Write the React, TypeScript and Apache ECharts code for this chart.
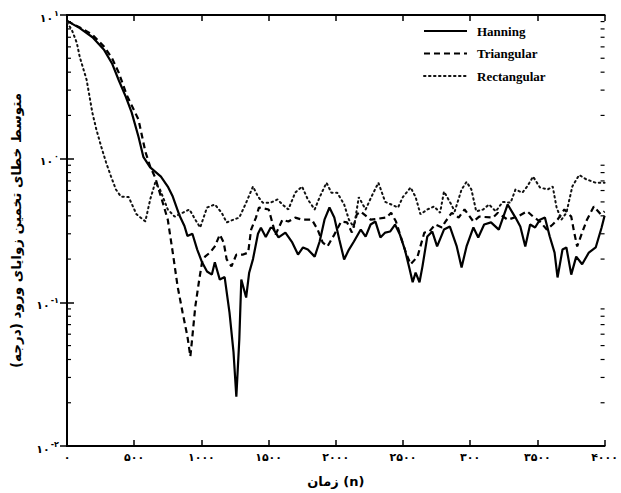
import React, { useEffect, useRef } from "react";
import * as echarts from "echarts";

const hanning: [number, number][] = [
  [0, 9.1], [95, 8.1], [190, 7.0], [277, 5.7], [335, 4.6], [386, 3.5], [437, 2.7], [481, 2.1],
  [532, 1.42], [568, 1.03], [619, 0.87], [699, 0.75], [750, 0.64], [787, 0.545], [838, 0.4],
  [874, 0.34], [896, 0.29], [933, 0.3], [969, 0.233], [1005, 0.19], [1042, 0.164], [1078, 0.156],
  [1100, 0.19], [1137, 0.144], [1173, 0.15], [1209, 0.085], [1239, 0.045], [1260, 0.022],
  [1282, 0.055], [1297, 0.144], [1333, 0.108], [1355, 0.16], [1384, 0.2], [1421, 0.3],
  [1443, 0.33], [1479, 0.285], [1515, 0.33], [1530, 0.33], [1574, 0.283], [1625, 0.306],
  [1676, 0.261], [1719, 0.215], [1756, 0.241], [1792, 0.233], [1843, 0.208], [1880, 0.265],
  [1916, 0.376], [1953, 0.457], [1989, 0.39], [2026, 0.274], [2062, 0.199], [2098, 0.233],
  [2135, 0.265], [2186, 0.321], [2222, 0.287], [2259, 0.348], [2295, 0.365], [2332, 0.283],
  [2368, 0.306], [2404, 0.311], [2441, 0.348], [2477, 0.296], [2514, 0.233], [2550, 0.169],
  [2572, 0.138], [2594, 0.161], [2623, 0.138], [2645, 0.178], [2681, 0.287], [2718, 0.311],
  [2754, 0.245], [2805, 0.321], [2849, 0.337], [2900, 0.245], [2936, 0.175], [2973, 0.245],
  [3024, 0.332], [3060, 0.283], [3104, 0.348], [3155, 0.36], [3213, 0.321], [3279, 0.48],
  [3337, 0.389], [3373, 0.337], [3410, 0.245], [3446, 0.348], [3483, 0.332], [3519, 0.376],
  [3556, 0.389], [3592, 0.287], [3628, 0.222], [3650, 0.149], [3687, 0.233], [3716, 0.241],
  [3752, 0.156], [3789, 0.208], [3833, 0.184], [3883, 0.222], [3934, 0.241], [3978, 0.332],
  [4000, 0.4],
];

const triangular: [number, number][] = [
  [0, 9.1], [95, 8.2], [189, 7.3], [277, 6.0], [335, 5.0], [386, 3.95], [444, 2.78], [532, 1.87],
  [583, 1.12], [619, 0.88], [656, 0.74], [699, 0.545], [750, 0.376], [787, 0.222], [823, 0.129],
  [860, 0.085], [896, 0.058], [918, 0.042], [933, 0.058], [955, 0.094], [984, 0.144],
  [1005, 0.19], [1027, 0.208], [1064, 0.222], [1100, 0.245], [1137, 0.296], [1166, 0.261],
  [1188, 0.199], [1224, 0.178], [1260, 0.215], [1311, 0.215], [1348, 0.222], [1370, 0.321],
  [1406, 0.389], [1428, 0.457], [1501, 0.443], [1552, 0.296], [1603, 0.376], [1647, 0.365],
  [1698, 0.389], [1749, 0.376], [1822, 0.376], [1865, 0.321], [1902, 0.261], [1938, 0.245],
  [1989, 0.296], [2040, 0.365], [2084, 0.36], [2120, 0.306], [2157, 0.41], [2186, 0.428],
  [2259, 0.376], [2375, 0.389], [2412, 0.42], [2448, 0.365], [2485, 0.283], [2521, 0.222],
  [2557, 0.184], [2608, 0.208], [2659, 0.306], [2696, 0.311], [2740, 0.348], [2790, 0.332],
  [2812, 0.36], [2863, 0.42], [2914, 0.389], [2958, 0.443], [3024, 0.365], [3067, 0.395],
  [3169, 0.389], [3206, 0.42], [3279, 0.376], [3352, 0.395], [3424, 0.43], [3468, 0.395],
  [3519, 0.365], [3570, 0.321], [3614, 0.348], [3650, 0.376], [3701, 0.443], [3752, 0.395],
  [3774, 0.306], [3796, 0.245], [3833, 0.306], [3869, 0.376], [3920, 0.464], [3971, 0.41],
  [4000, 0.43],
];

const rectangular: [number, number][] = [
  [0, 8.9], [36, 7.87], [73, 6.4], [95, 5.1], [117, 4.35], [146, 3.54], [168, 2.7], [189, 2.08],
  [219, 1.59], [255, 1.21], [291, 0.94], [328, 0.75], [364, 0.61], [401, 0.545], [459, 0.54],
  [517, 0.41], [583, 0.366], [619, 0.52], [656, 0.68], [692, 0.61], [750, 0.443], [801, 0.395],
  [860, 0.42], [911, 0.443], [955, 0.376], [991, 0.332], [1042, 0.457], [1100, 0.48],
  [1151, 0.42], [1188, 0.36], [1239, 0.376], [1282, 0.389], [1333, 0.494], [1384, 0.64],
  [1421, 0.545], [1457, 0.494], [1515, 0.494], [1566, 0.52], [1603, 0.48], [1647, 0.443],
  [1698, 0.58], [1749, 0.64], [1792, 0.52], [1843, 0.443], [1880, 0.54], [1931, 0.68],
  [1967, 0.58], [2011, 0.58], [2062, 0.48], [2098, 0.376], [2135, 0.332], [2171, 0.54],
  [2222, 0.443], [2266, 0.545], [2317, 0.68], [2368, 0.5], [2412, 0.48], [2463, 0.457],
  [2499, 0.54], [2557, 0.63], [2594, 0.54], [2630, 0.41], [2681, 0.443], [2732, 0.465],
  [2776, 0.42], [2805, 0.59], [2849, 0.5], [2885, 0.43], [2936, 0.61], [2973, 0.69],
  [3009, 0.61], [3045, 0.43], [3097, 0.443], [3140, 0.48], [3191, 0.43], [3242, 0.5],
  [3301, 0.494], [3337, 0.61], [3388, 0.58], [3424, 0.64], [3468, 0.75], [3519, 0.63],
  [3577, 0.61], [3614, 0.64], [3643, 0.457], [3679, 0.376], [3716, 0.42], [3760, 0.64],
  [3811, 0.77], [3862, 0.72], [3934, 0.68], [4000, 0.68],
];

const xTickValues = [0, 500, 1000, 1500, 2000, 2500, 3000, 3500, 4000];
const xTickLabels = ["۰", "۵۰۰", "۱۰۰۰", "۱۵۰۰", "۲۰۰۰", "۲۵۰۰", "۳۰۰", "۳۵۰۰", "۴۰۰۰"];
const yTickValues = [0.01, 0.1, 1, 10];
const yTickExps = ["-۲", "-۱", "۰", "۱"];
const yMinorTicks = [
  0.02, 0.03, 0.04, 0.05, 0.06, 0.07, 0.08, 0.09,
  0.2, 0.3, 0.4, 0.5, 0.6, 0.7, 0.8, 0.9,
  2, 3, 4, 5, 6, 7, 8, 9,
];

const seriesNames = ["Hanning", "Triangular", "Rectangular"];
const xTitle = "زمان (n)";
const yTitle = "متوسط خطای تخمین زوایای ورود (درجه)";

const FA = "DejaVu Sans, Noto Sans, sans-serif";
const SERIF = "Liberation Serif, DejaVu Serif, serif";

const lineStyles = [
  { color: "#000", width: 2.2, type: "solid" as any },
  { color: "#000", width: 2.2, type: [6, 4] as any },
  { color: "#111", width: 2, type: [1.5, 3.5] as any, cap: "round" as any },
];

export default function App() {
  const ref = useRef<HTMLDivElement>(null);
  useEffect(() => {
    if (!ref.current) return;
    const chart = echarts.init(ref.current, undefined, { renderer: "svg" });
    const xLabel = (v: number) => {
      const i = xTickValues.indexOf(v);
      return i >= 0 ? xTickLabels[i] : "";
    };
    const yLabel = (v: number) => {
      let best = -1;
      yTickValues.forEach((t, i) => {
        if (Math.abs(Math.log10(t) - Math.log10(v)) < 0.01) best = i;
      });
      return best >= 0 ? `{b|۱۰}{s|${yTickExps[best]}}` : "";
    };
    const axisLine = { show: true, lineStyle: { color: "#000", width: 2 } };
    const legendGraphics: any[] = [];
    seriesNames.forEach((name, i) => {
      const y = 31 + i * 22.5;
      const ls = lineStyles[i];
      legendGraphics.push({
        type: "line",
        shape: { x1: 424, y1: y, x2: 467, y2: y },
        style: {
          stroke: ls.color,
          lineWidth: ls.width,
          lineDash: Array.isArray(ls.type) ? ls.type : null,
          lineCap: ls.cap || "butt",
        },
      });
      legendGraphics.push({
        type: "text",
        x: 477,
        y,
        style: {
          text: name,
          fill: "#000",
          font: `bold 13px ${SERIF}`,
          textVerticalAlign: "middle",
          verticalAlign: "middle",
        },
      });
    });
    chart.setOption({
      animation: false,
      backgroundColor: "#fff",
      grid: { left: 67, right: 5, top: 15, bottom: 46, containLabel: false },
      graphic: legendGraphics,
      xAxis: [
        {
          type: "value",
          min: 0,
          max: 4000,
          interval: 500,
          name: xTitle,
          nameLocation: "middle",
          nameGap: 29,
          nameTextStyle: { fontFamily: FA, fontWeight: "bold", fontSize: 13, color: "#000" },
          axisLine,
          axisTick: { show: true, inside: true, length: 6, lineStyle: { color: "#000", width: 1.5 } },
          axisLabel: {
            formatter: xLabel,
            fontFamily: FA,
            fontWeight: "bold",
            fontSize: 11,
            color: "#000",
            margin: 6,
          },
          splitLine: { show: false },
        },
        {
          type: "value",
          min: 0,
          max: 4000,
          interval: 500,
          position: "top",
          axisLine,
          axisTick: { show: true, inside: true, length: 6, lineStyle: { color: "#000", width: 1.5 } },
          axisLabel: { show: false },
          splitLine: { show: false },
        },
      ],
      yAxis: [
        {
          type: "log",
          logBase: 10,
          min: 0.01,
          max: 10,
          name: yTitle,
          nameLocation: "middle",
          nameRotate: 90,
          nameGap: 44,
          nameTextStyle: { fontFamily: FA, fontWeight: "bold", fontSize: 13.5, color: "#000" },
          axisLine,
          axisTick: { show: true, inside: true, length: 7, lineStyle: { color: "#000", width: 1.5 } },
          axisLabel: {
            formatter: yLabel,
            margin: 8,
            rich: {
              b: { fontFamily: FA, fontWeight: "bold", fontSize: 11, color: "#000", padding: [6, 0, 0, 0] },
              s: { fontFamily: FA, fontWeight: "bold", fontSize: 8, color: "#000", padding: [0, 0, 4, 1] },
            },
          },
          splitLine: { show: false },
        },
        {
          type: "log",
          logBase: 10,
          min: 0.01,
          max: 10,
          position: "right",
          axisLine,
          axisTick: { show: true, inside: true, length: 7, lineStyle: { color: "#000", width: 1.5 } },
          axisLabel: { show: false },
          splitLine: { show: false },
        },
      ],
      series: [
        {
          name: seriesNames[0],
          type: "line",
          data: hanning,
          symbol: "none",
          lineStyle: lineStyles[0],
        },
        {
          name: seriesNames[1],
          type: "line",
          data: triangular,
          symbol: "none",
          lineStyle: lineStyles[1],
        },
        {
          name: seriesNames[2],
          type: "line",
          data: rectangular,
          symbol: "none",
          lineStyle: lineStyles[2],
        },
        {
          type: "custom",
          silent: true,
          clip: false,
          data: yMinorTicks.map((v) => [0, v]),
          renderItem: (_params: any, api: any) => {
            const v = api.value(1);
            const p = api.coord([0, v]);
            const q = api.coord([4000, v]);
            return {
              type: "group",
              children: [
                { type: "line", shape: { x1: p[0], y1: p[1], x2: p[0] + 4, y2: p[1] }, style: { stroke: "#000", lineWidth: 1.2 } },
                { type: "line", shape: { x1: q[0] - 4, y1: q[1], x2: q[0], y2: q[1] }, style: { stroke: "#000", lineWidth: 1.2 } },
              ],
            };
          },
        },
      ],
    });
    return () => chart.dispose();
  }, []);
  return <div ref={ref} style={{ position: "absolute", left: 0, top: 0, width: 621, height: 493 }} />;
}
